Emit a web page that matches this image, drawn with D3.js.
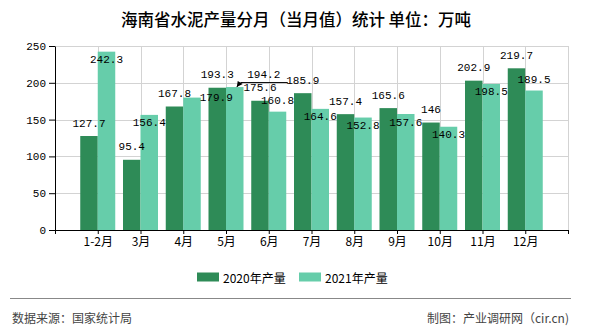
<!DOCTYPE html>
<html>
<head>
<meta charset="utf-8">
<script src="https://cdn.jsdelivr.net/npm/d3@7/dist/d3.min.js"></script>
<style>
  html, body { margin: 0; padding: 0; background: #fff; }
  svg { display: block; }
</style>
</head>
<body>
<svg id="chart" width="590" height="330"></svg>
<script>
// ---- data ----
const categories = ['1-2月', '3月', '4月', '5月', '6月', '7月', '8月', '9月', '10月', '11月', '12月'];
const values2020 = [127.7, 95.4, 167.8, 193.3, 175.6, 185.9, 157.4, 165.6, 146, 202.9, 219.7];
const values2021 = [242.3, 156.4, 179.9, 194.2, 160.8, 164.6, 152.8, 157.6, 140.3, 198.5, 189.5];
const seriesNames = ['2020年产量', '2021年产量'];
const yTicks = [0, 50, 100, 150, 200, 250];
const titleText = '海南省水泥产量分月（当月值）统计 单位：万吨';
const sourceText = '数据来源：国家统计局';
const creditText = '制图：产业调研网（cir.cn)';

// ---- layout / style ----
const colors = ['#2E8B57', '#66CDAA'];
const margin = { left: 55, right: 568, top: 46, bottom: 230 };
const barW = 17.5;
const monoFont = '"Liberation Mono", "DejaVu Sans Mono", monospace';
const cjkFont = '"Noto Sans CJK SC", "Noto Sans", sans-serif';
// label placement for the second series, as the collision layout of the original put them
const placement2021 = { '4月': 'right', '5月': 'leader', '6月': 'above', '12月': 'above' };

const svg = d3.select('#chart');

const x = d3.scalePoint()
  .domain(['__s', ...categories, '__e'])
  .range([margin.left, margin.right]);
const y = d3.scaleLinear().domain([0, 250]).range([margin.bottom, margin.top]);

// title
svg.append('text')
  .attr('x', 296).attr('y', 19)
  .attr('text-anchor', 'middle').attr('dominant-baseline', 'central')
  .attr('font-family', cjkFont).attr('font-size', 16.5).attr('font-weight', 500)
  .attr('fill', '#000')
  .text(titleText);

// grid
const grid = svg.append('g').attr('stroke', '#d3d3d3').attr('stroke-width', 1);
yTicks.filter(t => t > 0).forEach(t => {
  grid.append('line')
    .attr('x1', margin.left).attr('x2', margin.right)
    .attr('y1', Math.round(y(t)) + 0.5).attr('y2', Math.round(y(t)) + 0.5);
});
x.domain().slice(1).forEach(d => {
  grid.append('line')
    .attr('x1', Math.round(x(d)) + 0.5).attr('x2', Math.round(x(d)) + 0.5)
    .attr('y1', margin.top).attr('y2', margin.bottom);
});

// bars
const series = [values2020, values2021];
series.forEach((vals, si) => {
  svg.append('g').selectAll('rect')
    .data(vals)
    .join('rect')
    .attr('x', (d, i) => x(categories[i]) - (si === 0 ? barW : 0))
    .attr('width', barW)
    .attr('y', d => y(d))
    .attr('height', d => y(0) - y(d))
    .attr('fill', colors[si]);
});

// axes
const xAxis = svg.append('g')
  .attr('transform', `translate(0,${margin.bottom})`)
  .call(d3.axisBottom(x)
    .tickValues(x.domain())
    .tickFormat(d => categories.includes(d) ? d : '')
    .tickSize(4).tickSizeOuter(0).tickPadding(3));
xAxis.select('.domain').attr('stroke', '#000');
xAxis.selectAll('.tick line').attr('stroke', '#000');
xAxis.selectAll('.tick text')
  .attr('font-family', cjkFont).attr('font-size', 12).attr('fill', '#000');

const yAxis = svg.append('g')
  .attr('transform', `translate(${margin.left},0)`)
  .call(d3.axisLeft(y).tickValues(yTicks).tickSize(6).tickSizeOuter(0).tickPadding(3));
yAxis.select('.domain').attr('stroke', '#000');
yAxis.selectAll('.tick line').attr('stroke', '#000');
yAxis.selectAll('.tick text')
  .attr('font-family', monoFont).attr('font-size', 11).attr('fill', '#000');

// value labels
const labels = svg.append('g')
  .attr('font-family', monoFont).attr('font-size', 11).attr('fill', '#000')
  .attr('dominant-baseline', 'central');

values2020.forEach((v, i) => {
  labels.append('text')
    .attr('x', x(categories[i]) - barW / 2)
    .attr('y', y(v) - 12.5)
    .attr('text-anchor', 'middle')
    .text(v);
});

values2021.forEach((v, i) => {
  const c = categories[i];
  const cx = x(c) + barW / 2;
  const top = y(v);
  const mode = placement2021[c] || 'inside';
  if (mode === 'inside') {
    labels.append('text').attr('x', cx).attr('y', top + 8.5)
      .attr('text-anchor', 'middle').text(v);
  } else if (mode === 'above') {
    labels.append('text').attr('x', cx).attr('y', top - 11)
      .attr('text-anchor', 'middle').text(v);
  } else if (mode === 'right') {
    labels.append('text').attr('x', x(c) + barW - 1).attr('y', top)
      .attr('text-anchor', 'start').text(v);
  } else if (mode === 'leader') {
    const tx = cx + 2, ty = top;
    labels.append('path')
      .attr('d', `M${tx},${ty} L${tx + 4},${ty - 4.5} L${tx + 51},${ty - 4.5}`)
      .attr('fill', 'none').attr('stroke', '#000').attr('stroke-width', 1);
    labels.append('path')
      .attr('d', `M${tx},${ty} L${tx + 1},${ty - 6} L${tx + 6},${ty - 3} Z`)
      .attr('fill', '#000');
    labels.append('text').attr('x', tx + 27).attr('y', ty - 12)
      .attr('text-anchor', 'middle').text(v);
  }
});

// legend
const legend = svg.append('g');
const legendX = [197, 299];
seriesNames.forEach((name, i) => {
  legend.append('rect')
    .attr('x', legendX[i]).attr('y', 272.5)
    .attr('width', 22).attr('height', 9)
    .attr('fill', colors[i]);
  legend.append('text')
    .attr('x', legendX[i] + 26).attr('y', 277.5)
    .attr('dominant-baseline', 'central')
    .attr('font-family', cjkFont).attr('font-size', 12).attr('fill', '#000')
    .text(name);
});

// footer
svg.append('line')
  .attr('x1', 10).attr('x2', 571).attr('y1', 298.5).attr('y2', 298.5)
  .attr('stroke', '#888').attr('stroke-width', 1);
svg.append('text')
  .attr('x', 12).attr('y', 317).attr('dominant-baseline', 'central')
  .attr('font-family', cjkFont).attr('font-size', 12).attr('fill', '#444')
  .text(sourceText);
svg.append('text')
  .attr('x', 569).attr('y', 317).attr('dominant-baseline', 'central')
  .attr('text-anchor', 'end')
  .attr('font-family', cjkFont).attr('font-size', 12).attr('fill', '#444')
  .text(creditText);
</script>
</body>
</html>
